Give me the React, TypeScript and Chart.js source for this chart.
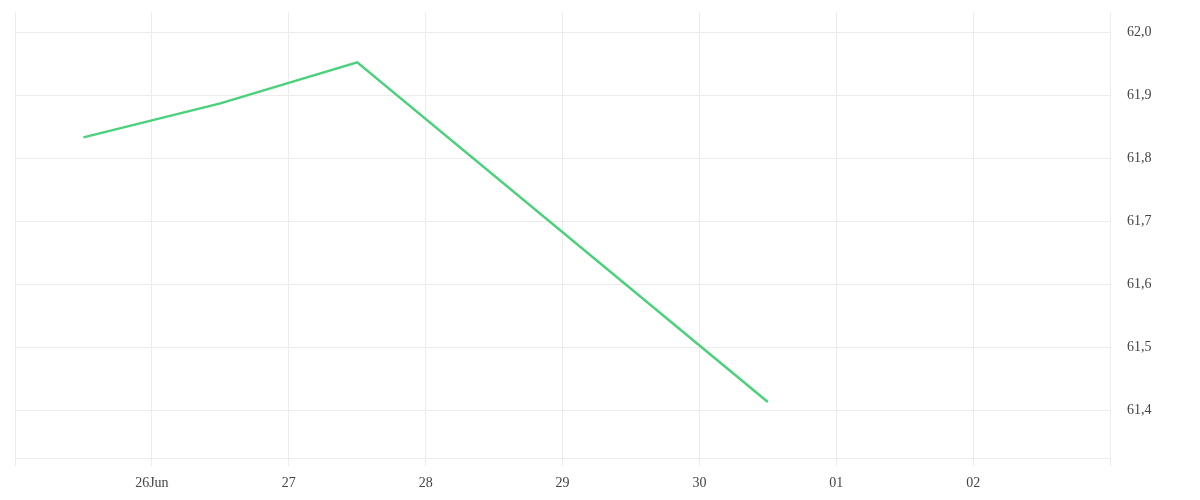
import React, { useEffect, useRef } from "react";
import { Chart, registerables } from "chart.js";

Chart.register(...registerables);

// x positions in days from 25 Jun 00:00
const dayLabels = ["", "26Jun", "27", "28", "29", "30", "01", "02", ""];
const pointDays = [0.5, 1.5, 2.5, 5.5];
const pointValues = [61.833, 61.887, 61.952, 61.413];
const yTicks = [61.4, 61.5, 61.6, 61.7, 61.8, 61.9, 62.0];

export default function App() {
  const ref = useRef<HTMLCanvasElement | null>(null);

  useEffect(() => {
    if (!ref.current) return;
    const chart = new Chart(ref.current, {
      type: "line",
      data: {
        datasets: [
          {
            data: pointDays.map((d, i) => ({ x: d, y: pointValues[i] })),
            borderColor: "#4bd17c",
            borderWidth: 2.5,
            pointRadius: 0,
            tension: 0,
            fill: false,
          },
        ],
      },
      options: {
        responsive: true,
        maintainAspectRatio: false,
        animation: false,
        layout: { padding: { left: 15, top: 12, right: 0, bottom: 0 } },
        plugins: { legend: { display: false }, tooltip: { enabled: false } },
        scales: {
          x: {
            type: "linear",
            min: 0,
            max: 8,
            afterBuildTicks: (axis: any) => {
              axis.ticks = dayLabels.map((_, i) => ({ value: i }));
            },
            afterFit: (axis: any) => {
              axis.height = 42;
              axis.paddingLeft = 0;
              axis.paddingRight = 0;
            },
            grid: { color: "#ececec", lineWidth: 1, drawTicks: true, tickLength: 8, tickColor: "#ececec" },
            border: { display: false },
            ticks: {
              autoSkip: false,
              maxRotation: 0,
              padding: 9,
              color: "#444",
              font: { family: "Liberation Serif", size: 14 },
              callback: (v: any) => dayLabels[Math.round(Number(v))] ?? "",
            },
          },
          y: {
            position: "right",
            min: 61.324,
            max: 62.032,
            afterBuildTicks: (axis: any) => {
              axis.ticks = [{ value: 61.324 }, ...yTicks.map((v) => ({ value: v }))];
            },
            afterFit: (axis: any) => {
              axis.width = 90;
              axis.paddingTop = 0;
              axis.paddingBottom = 0;
            },
            grid: { color: "#ececec", lineWidth: 1, drawTicks: false },
            border: { display: true, color: "#ececec" },
            ticks: {
              padding: 17,
              color: "#444",
              font: { family: "Liberation Serif", size: 14 },
              callback: (v: any) => {
                const n = Number(v);
                if (Math.abs(n - 61.324) < 1e-6) return "";
                return n.toFixed(1).replace(".", ",");
              },
            },
          },
        },
      },
    });
    return () => chart.destroy();
  }, []);

  return (
    <div style={{ position: "fixed", left: 0, top: 0, width: 1200, height: 500, background: "#fff" }}>
      <canvas ref={ref} />
    </div>
  );
}
